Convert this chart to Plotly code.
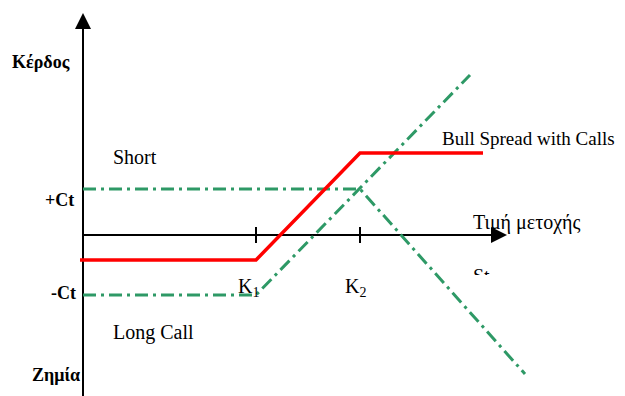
import plotly.graph_objects as go

# ---- data (payoff diagram, schematic units) ----
K1 = 173
K2 = 277
long_call_x = [0, K1, 387]
long_call_y = [-60, -60, 160]
short_call_x = [0, K2, 442]
short_call_y = [46, 46, -139]
bull_x = [-3, K1, K2, 400]
bull_y = [-25, -25, 82, 82]
tick_x = [K1, K2]
tick_labels = ["K<sub>1</sub>", "K<sub>2</sub>"]

# page body has an 8px margin: figure spans page px 8..625 / 8..396
X_RANGE = [-75, 542]
Y_RANGE = [-161, 227]
AX_X_END = 424
AX_Y_END = 222

GREEN = "#2e9966"
SERIF = "Liberation Serif, Times New Roman, serif"

fig = go.Figure()

# axes lines
fig.add_trace(go.Scatter(x=[0, AX_X_END - 14], y=[0, 0], mode="lines",
                         line=dict(color="black", width=2), hoverinfo="skip"))
fig.add_trace(go.Scatter(x=[0, 0], y=[Y_RANGE[0], AX_Y_END - 14], mode="lines",
                         line=dict(color="black", width=2), hoverinfo="skip"))
# ticks at strikes
for k in tick_x:
    fig.add_trace(go.Scatter(x=[k, k], y=[-8, 8], mode="lines",
                             line=dict(color="black", width=2), hoverinfo="skip"))

# series
fig.add_trace(go.Scatter(x=long_call_x, y=long_call_y, mode="lines",
                         line=dict(color=GREEN, width=3, dash="13px,5px,3px,5px")))
fig.add_trace(go.Scatter(x=short_call_x, y=short_call_y, mode="lines",
                         line=dict(color=GREEN, width=3, dash="13px,5px,3px,5px")))
fig.add_trace(go.Scatter(x=bull_x, y=bull_y, mode="lines",
                         line=dict(color="#ff0000", width=3.5)))

# arrow heads
shapes = [
    dict(type="path", xref="x", yref="y",
         path=f"M {AX_X_END},0 L {AX_X_END-16},8 L {AX_X_END-16},-8 Z",
         fillcolor="black", line=dict(color="black", width=0)),
    dict(type="path", xref="x", yref="y",
         path=f"M 0,{AX_Y_END} L -8,{AX_Y_END-16} L 8,{AX_Y_END-16} Z",
         fillcolor="black", line=dict(color="black", width=0)),
]

def ann(text, x, y, xanchor="left", yanchor="middle", bold=False, size=20, **kw):
    t = f"<b>{text}</b>" if bold else text
    d = dict(text=t, x=x, y=y, xref="x", yref="y", showarrow=False,
             xanchor=xanchor, yanchor=yanchor, borderpad=0,
             font=dict(family=SERIF, size=size, color="black"))
    d.update(kw)
    return d

annotations = [
    ann("Κέρδος", -42.5, 173, xanchor="center", bold=True, size=18),
    ann("Short", 29, 78),
    ann("+Ct", -8, 35, xanchor="right", bold=True, size=18),
    ann("-Ct", -6, -58, xanchor="right", bold=True, size=18),
    ann("Long Call", 29, -97),
    ann("Ζημία", -2, -140, xanchor="right", bold=True, size=18),
    ann(tick_labels[0], K1 - 19, -52),
    ann(tick_labels[1], K2 - 16, -52),
    ann("Bull Spread with Calls", 358, 97, size=19),
    ann("Τιμή μετοχής", 389, 13),
    ann("St", 389, -29, yanchor="top", height=10, valign="top"),
]

fig.update_layout(
    width=617, height=388,
    margin=dict(l=0, r=0, t=0, b=0),
    paper_bgcolor="white", plot_bgcolor="white",
    showlegend=False,
    xaxis=dict(range=X_RANGE, visible=False, fixedrange=True),
    yaxis=dict(range=Y_RANGE, visible=False, fixedrange=True),
    shapes=shapes,
    annotations=annotations,
)

fig.write_html("out.html")
